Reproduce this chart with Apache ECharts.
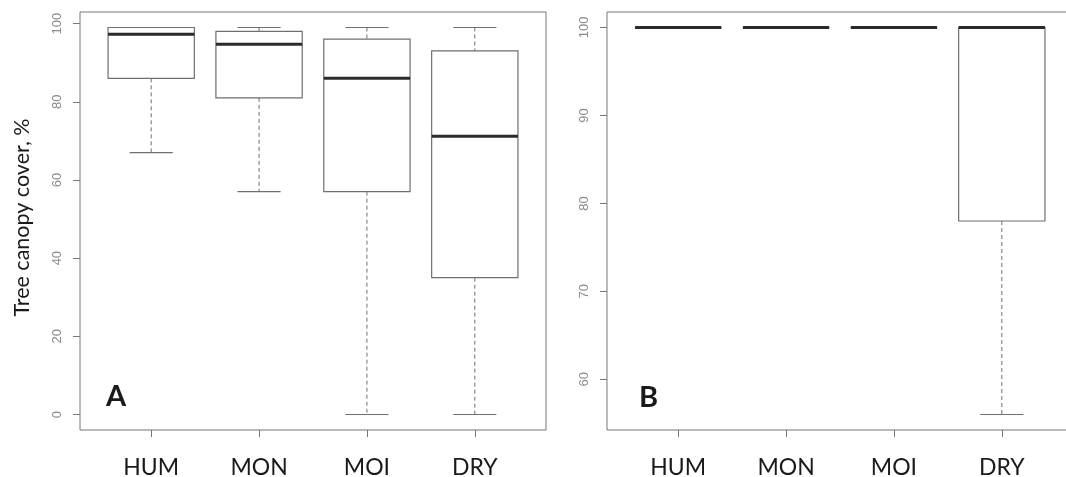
<!DOCTYPE html>
<html>
<head>
<meta charset="utf-8">
<script src="https://cdn.jsdelivr.net/npm/echarts@6/dist/echarts.min.js"></script>
<style>
	html, body { margin: 0; padding: 0; background: #fff; }
	#chart { width: 1066px; height: 477px; }
</style>
</head>
<body>
<div id="chart"></div>
<script>
// groups along the x axis
const categories = ['HUM', 'MON', 'MOI', 'DRY']

// panel A: tree canopy cover, %
const coverLow = [67, 57, 0, 0]
const coverQ1 = [86, 81, 57, 35]
const coverMedian = [97.3, 94.7, 86, 71.2]
const coverQ3 = [99, 98, 96, 93]
const coverHigh = [99, 99, 99, 99]
const coverTicks = [0, 20, 40, 60, 80, 100]

// panel B
const closedLow = [100, 100, 100, 56]
const closedQ1 = [100, 100, 100, 78]
const closedMedian = [100, 100, 100, 100]
const closedQ3 = [100, 100, 100, 100]
const closedHigh = [100, 100, 100, 100]
const closedTicks = [60, 70, 80, 90, 100]

const groupTicks = [1, 2, 3, 4]

const boxData = (low, q1, med, q3, high) =>
	categories.map((name, i) => [i + 1, low[i], q1[i], med[i], q3[i], high[i]])

const renderBox = (params, api) => {
	const x = api.value(0)
	const pLow = api.coord([x, api.value(1)])
	const pQ1 = api.coord([x, api.value(2)])
	const pMed = api.coord([x, api.value(3)])
	const pQ3 = api.coord([x, api.value(4)])
	const pHigh = api.coord([x, api.value(5)])
	const boxHalf = api.size([0.8, 0])[0] / 2
	const capHalf = api.size([0.4, 0])[0] / 2
	const cx = pMed[0]
	const grey = '#6f6f6f'
	const dashed = { stroke: grey, lineWidth: 1, lineDash: [4, 3] }
	const solid = { stroke: grey, lineWidth: 1.2 }

	return {
		type: 'group',
		children: [
			{ type: 'line', shape: { x1: cx, y1: pHigh[1], x2: cx, y2: pQ3[1] }, style: dashed },
			{ type: 'line', shape: { x1: cx, y1: pQ1[1], x2: cx, y2: pLow[1] }, style: dashed },
			{ type: 'line', shape: { x1: cx - capHalf, y1: pHigh[1], x2: cx + capHalf, y2: pHigh[1] }, style: solid },
			{ type: 'line', shape: { x1: cx - capHalf, y1: pLow[1], x2: cx + capHalf, y2: pLow[1] }, style: solid },
			{
				type: 'rect',
				shape: { x: cx - boxHalf, y: pQ3[1], width: boxHalf * 2, height: pQ1[1] - pQ3[1] },
				style: { fill: '#fff', stroke: grey, lineWidth: 1.2 },
			},
			{
				type: 'line',
				shape: { x1: cx - boxHalf, y1: pMed[1], x2: cx + boxHalf, y2: pMed[1] },
				style: { stroke: '#2b2b2b', lineWidth: 3 },
			},
		],
	}
}

const xAxisFor = (gridIndex) => ({
	type: 'value',
	gridIndex: gridIndex,
	min: 0.34,
	max: 4.66,
	axisLine: { show: false, onZero: false },
	splitLine: { show: false },
	axisTick: { show: true, customValues: groupTicks, length: 7, lineStyle: { color: '#777' } },
	axisLabel: {
		customValues: groupTicks,
		formatter: (v) => categories[Math.round(v) - 1],
		margin: 26,
		fontFamily: 'Lato',
		fontSize: 23,
		color: '#1a1a1a',
	},
})

const yAxisFor = (gridIndex, min, max, ticks, name) => ({
	type: 'value',
	gridIndex: gridIndex,
	min: min,
	max: max,
	name: name,
	nameLocation: 'middle',
	nameRotate: 90,
	nameGap: 47,
	nameTextStyle: { fontFamily: 'Lato', fontSize: 21.5, color: '#1a1a1a', padding: [0, 0, 0, 7] },
	axisLine: { show: false, onZero: false },
	splitLine: { show: false },
	axisTick: { show: true, customValues: ticks, length: 7, lineStyle: { color: '#777' } },
	axisLabel: {
		customValues: ticks,
		rotate: 90,
		margin: 16,
		fontFamily: 'Liberation Sans',
		fontSize: 13,
		color: '#8a8a8a',
	},
})

const chart = echarts.init(document.getElementById('chart'))

const option = {
	animation: false,
	backgroundColor: '#fff',
	grid: [
		{ left: 80, top: 12, width: 466, height: 418, show: true, borderColor: '#777', borderWidth: 1, outerBoundsMode: 'none' },
		{ left: 607, top: 12, width: 466, height: 418, show: true, borderColor: '#777', borderWidth: 1, outerBoundsMode: 'none' },
	],
	xAxis: [xAxisFor(0), xAxisFor(1)],
	yAxis: [
		yAxisFor(0, -3.96, 102.96, coverTicks, 'Tree canopy cover, %'),
		yAxisFor(1, 54.24, 101.76, closedTicks, ''),
	],
	series: [
		{
			type: 'custom',
			xAxisIndex: 0,
			yAxisIndex: 0,
			renderItem: renderBox,
			data: boxData(coverLow, coverQ1, coverMedian, coverQ3, coverHigh),
		},
		{
			type: 'custom',
			xAxisIndex: 1,
			yAxisIndex: 1,
			renderItem: renderBox,
			data: boxData(closedLow, closedQ1, closedMedian, closedQ3, closedHigh),
		},
	],
	graphic: [
		{
			type: 'text',
			x: 106,
			y: 397,
			style: { text: 'A', fontFamily: 'Lato', fontWeight: 'bold', fontSize: 29, fill: '#1a1a1a', verticalAlign: 'middle' },
		},
		{
			type: 'text',
			x: 639,
			y: 398,
			style: { text: 'B', fontFamily: 'Lato', fontWeight: 'bold', fontSize: 29, fill: '#1a1a1a', verticalAlign: 'middle' },
		},
	],
}

chart.setOption(option)
</script>
</body>
</html>
